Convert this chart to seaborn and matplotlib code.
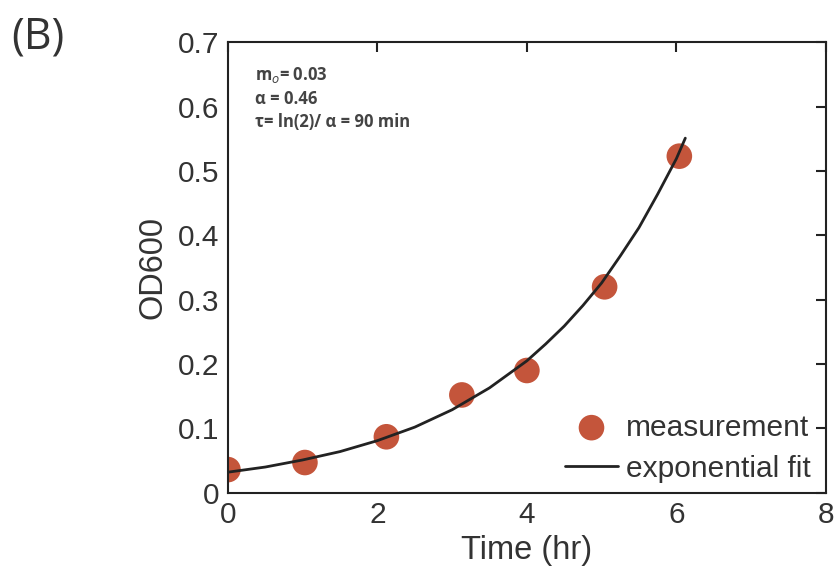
import matplotlib
matplotlib.use("Agg")
import matplotlib.pyplot as plt
import numpy as np
import pandas as pd
import seaborn as sns

# measured OD600 values
time_hr = [0.0, 1.03, 2.12, 3.13, 4.0, 5.04, 6.04]
od600 = [0.036, 0.047, 0.087, 0.152, 0.19, 0.32, 0.523]

# exponential fit curve
fit_time = [0.0, 0.5, 1.0, 1.5, 2.0, 2.5, 3.0, 3.5, 4.0, 4.25, 4.5, 4.75, 5.0,
            5.25, 5.5, 5.75, 6.0, 6.12]
fit_od = [0.032, 0.040, 0.051, 0.064, 0.081, 0.102, 0.129, 0.163, 0.205, 0.231,
          0.259, 0.291, 0.326, 0.368, 0.412, 0.464, 0.519, 0.551]

x_ticks = [0, 2, 4, 6, 8]
y_ticks = [0, 0.1, 0.2, 0.3, 0.4, 0.5, 0.6, 0.7]
y_ticklabels = ["0", "0.1", "0.2", "0.3", "0.4", "0.5", "0.6", "0.7"]

df_meas = pd.DataFrame({"time": time_hr, "od": od600})
df_fit = pd.DataFrame({"time": fit_time, "od": fit_od})

sns.set_style("white")
plt.rcParams["font.family"] = ["Liberation Sans", "DejaVu Sans"]
text_col = "#333333"

fig = plt.figure(figsize=(8.35, 5.71), dpi=100)
ax = fig.add_axes([0.273, 0.137, 0.716, 0.789])

sns.scatterplot(data=df_meas, x="time", y="od", ax=ax, s=340, color="#c4553b",
                edgecolor="none", label="measurement", zorder=2)
sns.lineplot(data=df_fit, x="time", y="od", ax=ax, color="#222222", linewidth=2,
             label="exponential fit", zorder=3)

ax.set_xlim(0, 8)
ax.set_ylim(0, 0.7)
ax.set_xticks(x_ticks)
ax.set_xticklabels([str(t) for t in x_ticks])
ax.set_yticks(y_ticks)
ax.set_yticklabels(y_ticklabels)
ax.tick_params(direction="in", length=7, width=1.5, top=True, right=True,
               labelsize=21.5, labelcolor=text_col, color="#222222", pad=6)
for sp in ax.spines.values():
    sp.set_visible(True)
    sp.set_linewidth(1.5)
    sp.set_color("#222222")

ax.set_xlabel("Time (hr)", fontsize=23.5, color=text_col, labelpad=4)
ax.set_ylabel("OD600", fontsize=23.5, color=text_col, labelpad=7)

ax.legend(loc="lower right", frameon=False, fontsize=21.5, labelcolor=text_col,
          handlelength=1.8, handletextpad=0.25, borderaxespad=0.05,
          labelspacing=0.45, markerscale=1.0, bbox_to_anchor=(0.997, -0.008))

ax.text(0.045, 0.95, "m$_o$= 0.03\n\u03b1 = 0.46\n\u03c4= ln(2)/ \u03b1 = 90 min",
        transform=ax.transAxes, ha="left", va="top", fontsize=12,
        fontweight="bold", color="#444444", linespacing=1.35,
        family=["Open Sans", "DejaVu Sans"])

fig.text(0.014, 0.935, "(B)", fontsize=31, color="#333333", ha="left", va="center",
         family=["Open Sans", "DejaVu Sans"])

fig.savefig("out.png", dpi=100)
